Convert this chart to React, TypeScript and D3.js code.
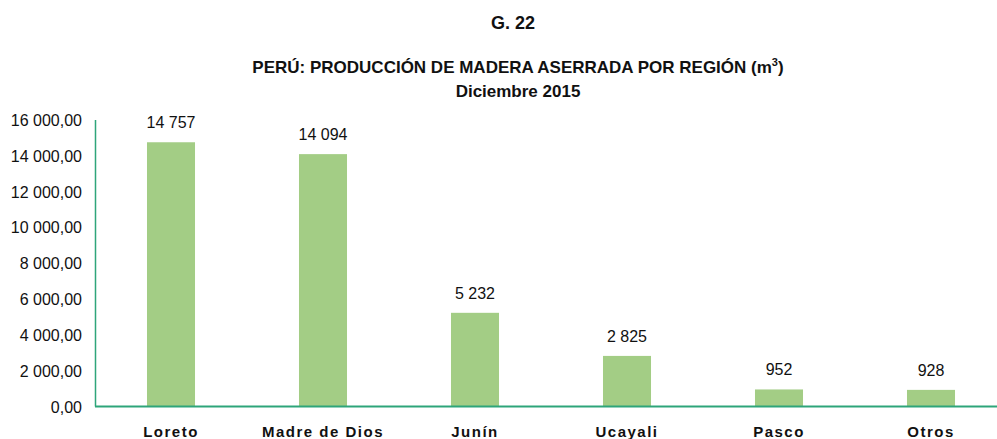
import React, { useEffect, useRef } from 'react';
import * as d3 from 'd3';

const regions = ['Loreto', 'Madre de Dios', 'Junín', 'Ucayali', 'Pasco', 'Otros'];
const production = [14757, 14094, 5232, 2825, 952, 928];
const valueLabels = ['14 757', '14 094', '5 232', '2 825', '952', '928'];
const yTicks = [0, 2000, 4000, 6000, 8000, 10000, 12000, 14000, 16000];

const fmt = (v: number) => d3.format(',.2f')(v).replace(/,/g, ' ').replace('.', ',');

const App = () => {
  const ref = useRef<SVGSVGElement>(null);

  useEffect(() => {
    const svg = d3.select(ref.current);
    svg.selectAll('*').remove();

    const font = 'Liberation Sans, Arial, sans-serif';
    const axisColor = '#2ea57a';
    const barColor = '#a3cd85';

    const x = d3.scaleBand()
      .domain(regions)
      .range([95, 1007])
      .paddingInner(0.684)
      .paddingOuter(0.342);

    const y = d3.scaleLinear()
      .domain([0, 16000])
      .range([406.5, 120]);

    // titles
    svg.append('text')
      .attr('x', 513).attr('y', 29)
      .attr('text-anchor', 'middle')
      .style('font', `bold 18px ${font}`)
      .style('fill', '#111')
      .text('G. 22');

    const t = svg.append('text')
      .attr('x', 518).attr('y', 72.5)
      .attr('text-anchor', 'middle')
      .style('font', `bold 17px ${font}`)
      .style('fill', '#111');
    t.append('tspan').text('PERÚ: PRODUCCIÓN DE MADERA ASERRADA POR REGIÓN (m');
    t.append('tspan').attr('dy', -7).style('font-size', '11px').text('3');
    t.append('tspan').attr('dy', 7).text(')');

    svg.append('text')
      .attr('x', 518).attr('y', 96.5)
      .attr('text-anchor', 'middle')
      .style('font', `bold 17px ${font}`)
      .style('fill', '#111')
      .text('Diciembre 2015');

    // y tick labels
    svg.append('g')
      .selectAll('text')
      .data(yTicks)
      .join('text')
      .attr('x', 82)
      .attr('y', d => y(d) + 6)
      .attr('text-anchor', 'end')
      .style('font', `16px ${font}`)
      .style('fill', '#111')
      .text(d => fmt(d));

    // bars
    svg.append('g')
      .selectAll('rect')
      .data(production)
      .join('rect')
      .attr('x', (d, i) => x(regions[i])!)
      .attr('y', d => y(d))
      .attr('width', x.bandwidth())
      .attr('height', d => y(0) - y(d))
      .attr('fill', barColor);

    // value labels
    svg.append('g')
      .selectAll('text')
      .data(production)
      .join('text')
      .attr('x', (d, i) => x(regions[i])! + x.bandwidth() / 2)
      .attr('y', d => y(d) - 14)
      .attr('text-anchor', 'middle')
      .style('font', `16px ${font}`)
      .style('fill', '#111')
      .text((d, i) => valueLabels[i]);

    // axes lines
    svg.append('line')
      .attr('x1', 95.5).attr('x2', 95.5)
      .attr('y1', 120).attr('y2', y(0))
      .attr('stroke', axisColor).attr('stroke-width', 1.5);
    svg.append('line')
      .attr('x1', 95).attr('x2', 997)
      .attr('y1', y(0)).attr('y2', y(0))
      .attr('stroke', axisColor).attr('stroke-width', 2);

    // category labels
    svg.append('g')
      .selectAll('text')
      .data(regions)
      .join('text')
      .attr('x', d => x(d)! + x.bandwidth() / 2)
      .attr('y', 437)
      .attr('text-anchor', 'middle')
      .style('font', `bold 15px ${font}`)
      .style('letter-spacing', '1.5px')
      .style('fill', '#111')
      .text(d => d);
  }, []);

  return (
    <svg ref={ref} width={997} height={439}
      style={{ position: 'absolute', left: 0, top: 0, background: '#fff' }} />
  );
};

export default App;
